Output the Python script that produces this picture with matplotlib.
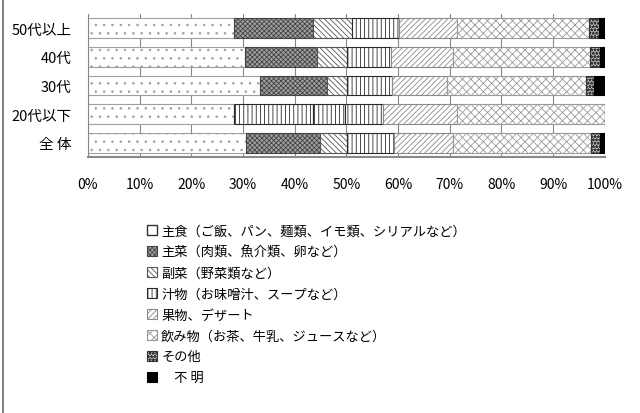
import matplotlib
matplotlib.use("Agg")
import matplotlib.pyplot as plt
from matplotlib.patches import Patch
from matplotlib.lines import Line2D

plt.rcParams['font.family'] = ['Noto Sans CJK JP', 'DejaVu Sans']
plt.rcParams['hatch.linewidth'] = 0.6

groups = ["50代以上", "40代", "30代", "20代以下", "全 体"]
series = ["主食（ご飯、パン、麺類、イモ類、シリアルなど）",
          "主菜（肉類、魚介類、卵など）",
          "副菜（野菜類など）",
          "汁物（お味噌汁、スープなど）",
          "果物、デザート",
          "飲み物（お茶、牛乳、ジュースなど）",
          "その他",
          "\u3000不 明"]

shushoku = [28.3, 30.3, 33.3, 28.3, 30.6]
shusai = [15.3, 14.1, 13.0, 15.3, 14.2]
fukusai = [7.4, 5.8, 3.9, 6.2, 5.4]
shirumono = [9.2, 8.5, 8.6, 7.3, 9.0]
kudamono = [11.2, 11.9, 10.6, 14.3, 11.4]
nomimono = [25.6, 26.6, 27.0, 28.6, 26.7]
sonota = [1.9, 1.9, 1.5, 0.0, 1.8]
fumei = [1.1, 0.9, 2.1, 0.0, 0.9]

values = [shushoku, shusai, fukusai, shirumono, kudamono, nomimono, sonota, fumei]

# face, hatch, hatch/edge colour
styles = [
    ("white", "..", "#a0a0a0"),
    ("#a0a0a0", "xxxxxxx", "#444444"),
    ("white", "\\\\\\\\\\\\", "#555555"),
    ("white", "||||", "#2a2a2a"),
    ("white", "//////", "#8a8a8a"),
    ("white", "xxxx", "#9a9a9a"),
    ("#c8c8c8", "*****", "#333333"),
    ("black", "", "black"),
]

fig = plt.figure(figsize=(6.4, 4.14), dpi=100)
ax = fig.add_axes([0.1375, 0.618, 0.8075, 0.346])

ypos = list(range(len(groups)))
left = [0.0] * len(groups)
for vals, (fc, hatch, hc) in zip(values, styles):
    ax.barh(ypos, vals, left=left, height=0.68, color=fc,
            hatch=hatch, edgecolor=hc, linewidth=0.8, zorder=2)
    left = [l + v for l, v in zip(left, vals)]

# in the picture the whole middle of the 20代以下 bar shows vertical stripes
for k in (1, 2):
    p = ax.containers[k].patches[3]
    p.set_facecolor("white")
    p.set_hatch("||||")
    p.set_edgecolor("#2a2a2a")

ax.set_xlim(0, 100)
ax.set_ylim(len(groups) - 0.5, -0.5)
ax.set_yticks(ypos)
ax.set_yticklabels(groups, fontsize=10.5)
ax.set_xticks(range(0, 101, 10))
ax.set_xticklabels([f"{t}%" for t in range(0, 101, 10)], fontsize=10)
ax.tick_params(axis='y', length=0, pad=12)
ax.tick_params(axis='x', length=0, pad=14)
ax.grid(axis='x', color="#888888", linewidth=0.8, zorder=0)
for s in ["top", "right"]:
    ax.spines[s].set_visible(False)
ax.spines["left"].set_color("#888888")
ax.spines["bottom"].set_color("#888888")
ax.spines["bottom"].set_linewidth(1.5)

handles = [Patch(facecolor=fc, hatch=h, edgecolor=hc, linewidth=0.8)
           for fc, h, hc in styles]
handles[0] = Patch(facecolor="white", edgecolor="#333333", linewidth=1.0)
fig.legend(handles, series, loc="upper left", bbox_to_anchor=(0.222, 0.468),
           frameon=False, fontsize=9.5, handlelength=0.75, handleheight=0.75,
           handletextpad=0.3, labelspacing=0.6, borderaxespad=0)

# left frame line of the original figure box
fig.add_artist(Line2D([0.005, 0.005], [0, 1], color="#666666", linewidth=1.2,
                      transform=fig.transFigure))

fig.savefig("out.png", dpi=100)
